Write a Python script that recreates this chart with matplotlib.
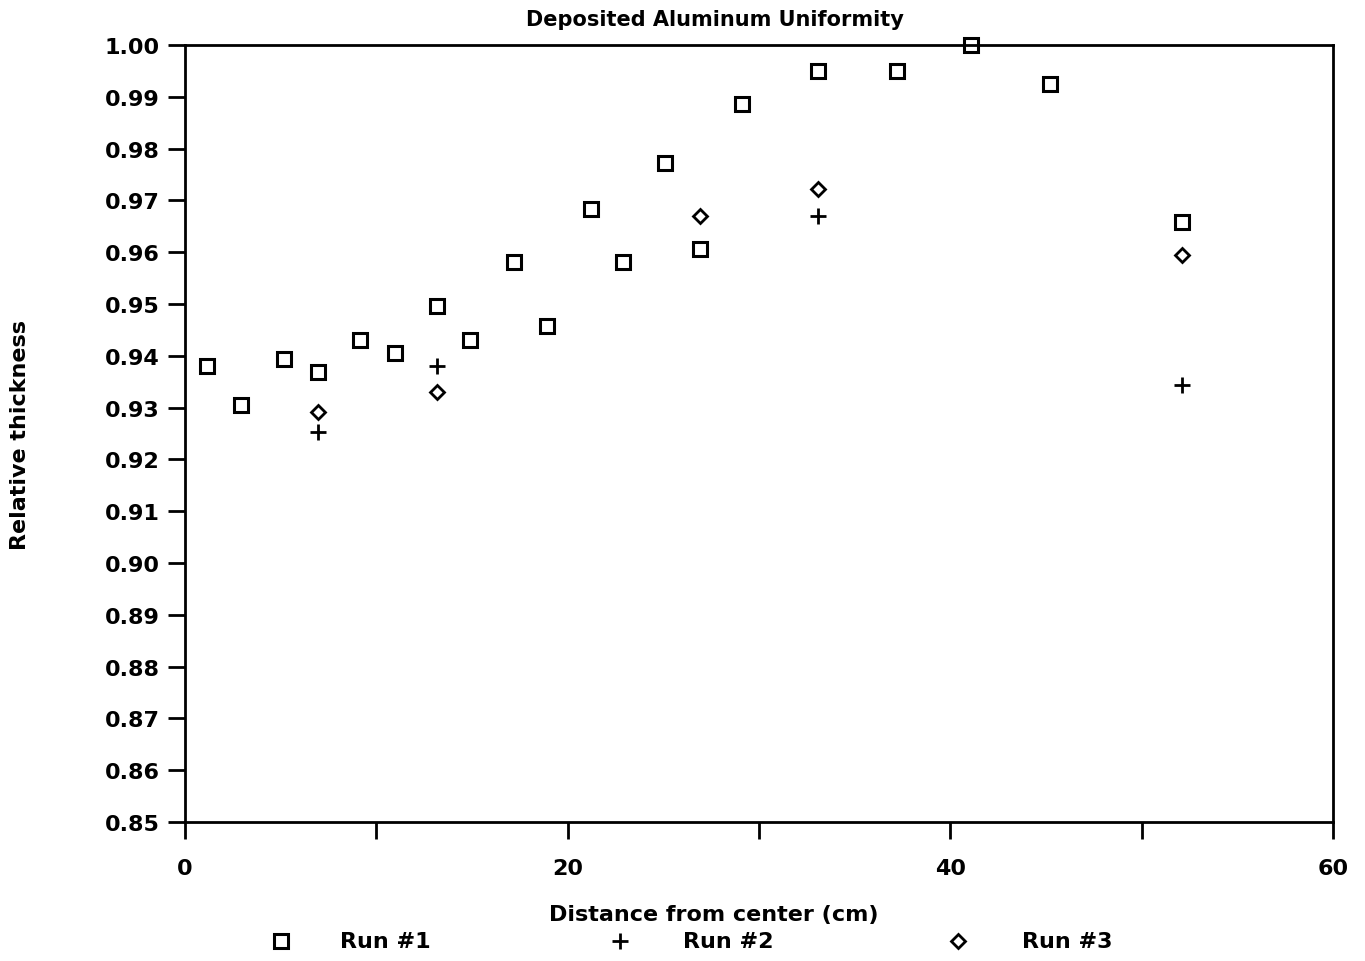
import matplotlib
matplotlib.use("Agg")
import matplotlib.pyplot as plt
from matplotlib.lines import Line2D

run1_x = [1.15, 2.93, 5.17, 6.95, 9.15, 10.98, 13.18, 14.9, 17.2, 18.93,
          21.2, 22.9, 25.1, 26.9, 29.1, 33.1, 37.2, 41.1, 45.2, 52.1]
run1_y = [0.938, 0.9305, 0.9394, 0.9369, 0.943, 0.9405, 0.9496, 0.943, 0.9581, 0.9458,
          0.9683, 0.9581, 0.9772, 0.9606, 0.9886, 0.995, 0.995, 1.000, 0.9925, 0.9658]
run2_x = [6.95, 13.18, 33.1, 52.1]
run2_y = [0.9253, 0.938, 0.967, 0.9344]
run3_x = [6.95, 13.18, 26.9, 33.1, 52.1]
run3_y = [0.9292, 0.933, 0.967, 0.9722, 0.9595]

labels = ["Run #1", "Run #2", "Run #3"]

plt.rcParams['font.family'] = 'DejaVu Sans'
plt.rcParams['font.weight'] = 'bold'

fig = plt.figure(figsize=(13.65, 9.62), dpi=100)
ax = fig.add_axes([0.1355, 0.1445, 0.8411, 0.8077])

sq = dict(linestyle='none', marker='s', markersize=10, markerfacecolor='none',
          markeredgecolor='black', markeredgewidth=2.2)
pl = dict(linestyle='none', marker='+', markersize=11, color='black', markeredgewidth=2.0)
dm = dict(linestyle='none', marker='D', markersize=7, markerfacecolor='none',
          markeredgecolor='black', markeredgewidth=2.0)

ax.plot(run1_x, run1_y, clip_on=False, **sq)
ax.plot(run2_x, run2_y, clip_on=False, **pl)
ax.plot(run3_x, run3_y, clip_on=False, **dm)

ax.set_xlim(0, 60)
ax.set_ylim(0.85, 1.00)
ax.set_xticks([0, 10, 20, 30, 40, 50, 60])
ax.set_xticklabels(['0', '', '20', '', '40', '', '60'])
yt = [0.85 + 0.01 * i for i in range(16)]
ax.set_yticks(yt)
ax.set_yticklabels([f"{v:.2f}" for v in yt])
ax.tick_params(direction='out', length=12, width=2, labelsize=16, pad=6)
ax.tick_params(axis='x', pad=14)
for s in ax.spines.values():
    s.set_linewidth(2)

fig.text(0.524, 0.979, "Deposited Aluminum Uniformity", fontsize=15, fontweight='bold',
         ha='center', va='center')
fig.text(0.523, 0.049, "Distance from center (cm)", fontsize=16, fontweight='bold',
         ha='center', va='center')
fig.text(0.015, 0.548, "Relative thickness", fontsize=16, fontweight='bold',
         ha='center', va='center', rotation=90)

styles = [sq, pl, dm]
mx = [0.2059, 0.4542, 0.7018]
tx = [0.249, 0.5004, 0.7487]
ly = 0.0208
for st, m, t, lab in zip(styles, mx, tx, labels):
    fig.add_artist(Line2D([m], [ly], transform=fig.transFigure, **st))
    fig.text(t, ly, lab, fontsize=16, fontweight='bold', ha='left', va='center')

fig.savefig("out.png", dpi=100)
